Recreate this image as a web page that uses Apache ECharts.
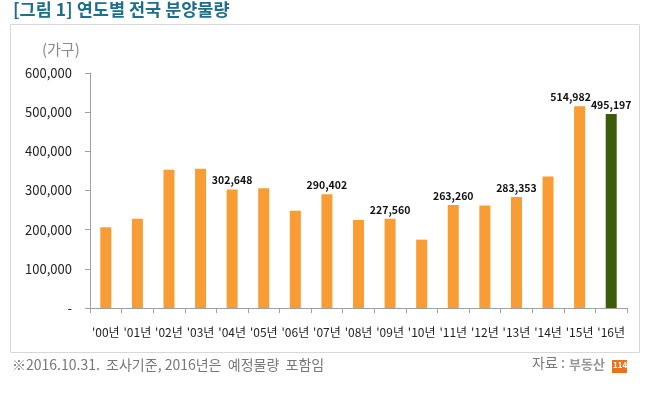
<!DOCTYPE html>
<html><head><meta charset="utf-8">
<script src="https://cdn.jsdelivr.net/npm/echarts@6/dist/echarts.min.js"></script>
<style>html,body{margin:0;padding:0;background:#fff}#c{width:648px;height:393px}</style>
</head><body><div id="c"></div>
<script>
const categories = ["'00년","'01년","'02년","'03년","'04년","'05년","'06년","'07년","'08년","'09년","'10년","'11년","'12년","'13년","'14년","'15년","'16년"];
const values = [206000, 228000, 353000, 355500, 302648, 305500, 248500, 290402, 224500, 227560, 174500, 263260, 261500, 283353, 335500, 514982, 495197];
const labeledIdx = [4, 7, 9, 11, 13, 15, 16];
const yTicks = [0, 100000, 200000, 300000, 400000, 500000, 600000];

const FONT = '"Noto Sans CJK KR", "Noto Sans", sans-serif';
const chart = echarts.init(document.getElementById('c'), null, {renderer: 'canvas'});
const data = values.map((v, i) => ({
  value: v,
  itemStyle: {color: i === values.length - 1 ? '#3D5C09' : '#F89C33'},
  label: {show: labeledIdx.includes(i), offset: i === 15 ? [-9, 0] : [0, 0]}
}));
chart.setOption({
  animation: false,
  textStyle: {fontFamily: FONT},
  grid: {left: 90, right: 21, top: 73, bottom: 85, containLabel: false},
  graphic: [
    {type: 'rect', shape: {x: 10.5, y: 24.5, width: 629, height: 328}, style: {fill: 'none', stroke: '#d8d8d8', lineWidth: 1}},
    {type: 'text', left: 13, top: 1, style: {text: '[그림 1] 연도별 전국 분양물량', fill: '#1E6E8C', font: 'bold 17.5px ' + FONT}},
    {type: 'text', left: 42, top: 42, style: {text: '(가구)', fill: '#888', font: '15px ' + FONT}},
    {type: 'text', left: 12, top: 358, style: {text: '※2016.10.31.  조사기준, 2016년은  예정물량  포함임', fill: '#777', font: '14px ' + FONT}},
    {type: 'text', left: 532, top: 356, style: {text: '자료 :', fill: '#777', font: '14px ' + FONT}},
    {type: 'text', left: 569, top: 358, style: {text: '부동산', fill: '#999', font: 'bold 13px ' + FONT}},
    {type: 'rect', shape: {x: 612, y: 360, width: 15, height: 13}, style: {fill: '#E8731C'}},
    {type: 'text', left: 613, top: 361, style: {text: '114', fill: '#fff', font: 'bold 8px ' + FONT}}
  ],
  xAxis: {
    type: 'category',
    data: categories,
    axisLine: {show: true, lineStyle: {color: '#a0a0a0'}},
    axisTick: {show: true, length: 5, lineStyle: {color: '#a0a0a0'}},
    axisLabel: {color: '#222', fontSize: 12, margin: 18, interval: 0, fontFamily: FONT}
  },
  yAxis: {
    type: 'value',
    min: 0, max: 600000, interval: 100000,
    axisLine: {show: true, lineStyle: {color: '#a0a0a0'}},
    axisTick: {show: true, length: 5, lineStyle: {color: '#a0a0a0'}},
    splitLine: {show: false},
    axisLabel: {
      color: '#222', fontSize: 13, margin: 18, fontFamily: FONT,
      formatter: v => v === 0 ? '-' : v.toLocaleString('en-US')
    }
  },
  series: [{
    type: 'bar',
    data: data,
    barWidth: 11,
    label: {
      position: 'top', distance: 4, color: '#111', fontSize: 10.5, fontWeight: 'bold', fontFamily: FONT,
      formatter: p => p.value.toLocaleString('en-US')
    }
  }]
});
</script></body></html>
